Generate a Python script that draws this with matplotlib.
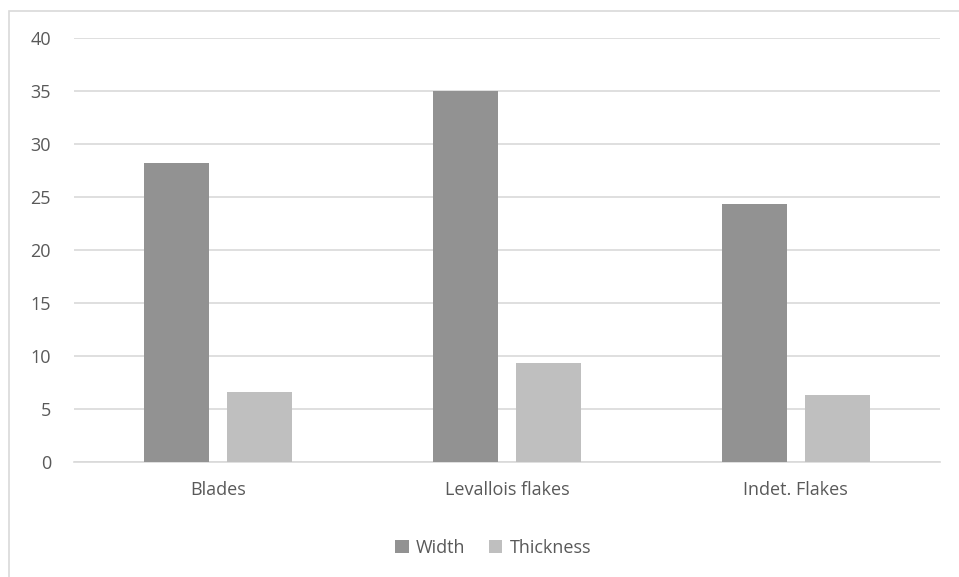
import matplotlib.pyplot as plt
from matplotlib.patches import Rectangle
import numpy as np

categories = ['Blades', 'Levallois flakes', 'Indet. Flakes']
width_vals = [28.2, 35.0, 24.3]
thickness_vals = [6.6, 9.3, 6.3]
yticks = [0, 5, 10, 15, 20, 25, 30, 35, 40]

plt.rcParams['font.family'] = ['Open Sans', 'DejaVu Sans']
txt = '#595959'

fig = plt.figure(figsize=(9.59, 5.77), dpi=100)
ax = fig.add_axes([74 / 959, 1 - 462 / 577, 866 / 959, 424 / 577])

# chart border (Excel style)
fig.patches.append(Rectangle((8.5 / 959, -0.1), 1.2, 1.1 - 10.5 / 577,
                             transform=fig.transFigure, fill=False,
                             edgecolor='#d9d9d9', linewidth=1.2))

x = np.arange(len(categories))
bw = 0.225
off = 0.1437
ax.bar(x - off, width_vals, bw, color='#929292', label='Width', zorder=3)
ax.bar(x + off, thickness_vals, bw, color='#bfbfbf', label='Thickness', zorder=3)

ax.set_xlim(-0.5, 2.5)
ax.set_ylim(0, 40)
ax.set_yticks(yticks)
ax.set_xticks(x)
ax.set_xticklabels(categories)
ax.yaxis.grid(True, color='#d9d9d9', linewidth=1.2, zorder=0)
for s in ['top', 'right', 'left']:
    ax.spines[s].set_visible(False)
ax.spines['bottom'].set_color('#d9d9d9')
ax.spines['bottom'].set_linewidth(1.2)
ax.tick_params(axis='both', length=0, labelsize=13, labelcolor=txt)
ax.tick_params(axis='y', pad=16.5)
ax.tick_params(axis='x', pad=14)

leg = fig.legend(loc='center', bbox_to_anchor=(493 / 959, 1 - 548 / 577), ncol=2,
                 frameon=False, fontsize=13, handlelength=0.75, handleheight=0.75,
                 columnspacing=1.3, handletextpad=0.4)
for t in leg.get_texts():
    t.set_color(txt)

fig.savefig('out.png', dpi=100)
